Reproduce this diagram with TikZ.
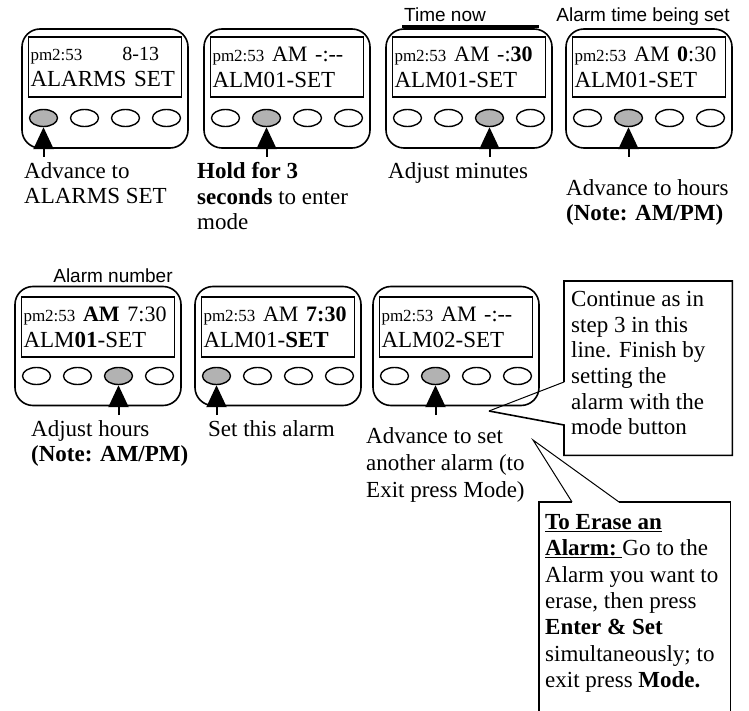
\documentclass[tikz,border=0pt]{standalone}
\usepackage{fontspec}
\setmainfont{Liberation Serif}
\setsansfont{Liberation Sans}
\usetikzlibrary{arrows.meta, shapes.geometric}

\newcommand{\pmclock}{{\fontsize{17}{19}\selectfont pm2:53}}
\newcommand{\topline}[1]{{\fontsize{22}{24}\selectfont #1}}

\begin{document}
\begin{tikzpicture}[x=1pt, y=-1pt,
    device/.style={draw, line width=1.6pt, rounded corners=18pt, minimum width=166pt, minimum height=119pt, inner sep=0pt},
    screen/.style={draw, line width=1.8pt, minimum width=153pt, minimum height=60pt, text width=149pt, inner sep=2pt, align=left, font=\fontsize{23}{26}\selectfont},
    btn/.style={draw, ellipse, line width=1.4pt, minimum width=28pt, minimum height=17pt, inner sep=0pt},
    btn_on/.style={btn, fill=black!30},
    press/.style={line width=2pt, -{Triangle[width=20pt, length=22pt]}},
    hint/.style={anchor=north west, inner sep=0pt, align=left, font=\fontsize{23}{25.5}\selectfont},
    tag/.style={anchor=base, inner sep=0pt, font=\sffamily\fontsize{19}{22}\selectfont},
    note_box/.style={anchor=north west, inner sep=0pt},
    note_text/.style={anchor=north west, inner sep=0pt, align=left, font=\fontsize{23}{26}\selectfont},
    note_line/.style={line width=1.6pt, line join=miter},
    tip_line/.style={line width=1pt}
  ]
  \useasboundingbox (0,0) rectangle (749,711);

  % Step 1: advance to ALARMS SET
  \node[device] (d1) at (105,88.5) {};
  \node[screen] (s1) at (105,67) {\pmclock\hspace{40pt}{\fontsize{20}{22}\selectfont 8-13}\\ALARMS SET};
  \node[btn_on] (b11) at (43.5,118) {}; \node[btn] (b12) at (84.5,118) {};
  \node[btn] (b13) at (125.5,118) {}; \node[btn] (b14) at (166.5,118) {};

  % Step 2: hold to enter mode
  \node[device] (d2) at (287,88.5) {};
  \node[screen] (s2) at (287,67) {\pmclock\ \topline{AM -:-{}-}\\ALM01-SET};
  \node[btn] (b21) at (225.5,118) {}; \node[btn_on] (b22) at (266.5,118) {};
  \node[btn] (b23) at (307.5,118) {}; \node[btn] (b24) at (348.5,118) {};

  % Step 3: minutes
  \node[device] (d3) at (469,88.5) {};
  \node[screen] (s3) at (469,67) {\pmclock\ \topline{AM -:\textbf{30}}\\ALM01-SET};
  \node[btn] (b31) at (407.5,118) {}; \node[btn] (b32) at (448.5,118) {};
  \node[btn_on] (b33) at (489.5,118) {}; \node[btn] (b34) at (530.5,118) {};

  % Step 4: hours
  \node[device] (d4) at (649,88.5) {};
  \node[screen] (s4) at (649,67) {\pmclock\ \topline{AM \textbf{0}:30}\\ALM01-SET};
  \node[btn] (b41) at (587.5,118) {}; \node[btn_on] (b42) at (628.5,118) {};
  \node[btn] (b43) at (669.5,118) {}; \node[btn] (b44) at (710.5,118) {};

  % Step 5: adjust hours
  \node[device] (d5) at (98,346) {};
  \node[screen] (s5) at (98,327) {\pmclock\ \topline{\textbf{AM} 7:30}\\ALM\textbf{01}-SET};
  \node[btn] (b51) at (36.5,376) {}; \node[btn] (b52) at (77.5,376) {};
  \node[btn_on] (b53) at (118.5,376) {}; \node[btn] (b54) at (159.5,376) {};

  % Step 6: set this alarm
  \node[device] (d6) at (278,346) {};
  \node[screen] (s6) at (278,327) {\pmclock\ \topline{AM \textbf{7:30}}\\ALM01-\textbf{SET}};
  \node[btn_on] (b61) at (216.5,376) {}; \node[btn] (b62) at (257.5,376) {};
  \node[btn] (b63) at (298.5,376) {}; \node[btn] (b64) at (339.5,376) {};

  % Step 7: next alarm
  \node[device] (d7) at (456,346) {};
  \node[screen] (s7) at (456,327) {\pmclock\ \topline{AM -:-{}-}\\ALM02-SET};
  \node[btn] (b71) at (394.5,376) {}; \node[btn_on] (b72) at (435.5,376) {};
  \node[btn] (b73) at (476.5,376) {}; \node[btn] (b74) at (517.5,376) {};

  % Press arrows
  \coordinate (a1) at (43.5,157); \coordinate (a2) at (266.5,157);
  \coordinate (a3) at (489.5,157); \coordinate (a4) at (628.5,157);
  \coordinate (a5) at (118.5,415); \coordinate (a6) at (216.5,415);
  \coordinate (a7) at (435.5,415);
  \draw[press] (a1) -- (b11.south); \draw[press] (a2) -- (b22.south);
  \draw[press] (a3) -- (b33.south); \draw[press] (a4) -- (b42.south);
  \draw[press] (a5) -- (b53.south); \draw[press] (a6) -- (b61.south);
  \draw[press] (a7) -- (b72.south);

  % Tags above the displays
  \node[tag] (t1) at (445,22) {Time now};
  \node[tag] (t2) at (643,22) {Alarm time being set};
  \node[tag] (t3) at (113,282) {Alarm number};
  \draw[line width=3pt] ([xshift=17pt, yshift=1.5pt]d3.north west) -- ([xshift=-14pt, yshift=1.5pt]d3.north east);

  % Hints under the buttons
  \node[hint] (h1) at (24,162.3) {Advance to\\ALARMS SET};
  \node[hint] (h2) at (197,162.3) {\textbf{Hold for 3}\\\textbf{seconds} to enter\\mode};
  \node[hint] (h3) at (388,162.3) {Adjust minutes};
  \node[hint] (h4) at (566,179.3) {Advance to hours\\\textbf{(Note: AM/PM)}};
  \node[hint] (h5) at (31,420.3) {Adjust hours\\\textbf{(Note: AM/PM)}};
  \node[hint] (h6) at (208,420.3) {Set this alarm};
  \node[hint, font=\fontsize{23}{27}\selectfont] (h7) at (366,427.3) {Advance to set\\another alarm (to\\Exit press Mode)};

  % Callout: continue
  \node[note_box, minimum width=168pt, minimum height=174pt] (box1) at (564,281) {};
  \coordinate (c1a) at (564,382); \coordinate (c1b) at (564,425); \coordinate (tip1) at (489,411);
  \draw[note_line] (c1a) -- (box1.north west) -- (box1.north east) -- (box1.south east) -- (box1.south west) -- (c1b) -- (tip1);
  \draw[tip_line] (tip1) -- (c1a);
  \node[note_text, font=\fontsize{23}{25.6}\selectfont] (n1) at (571,291.3) {Continue as in\\step 3 in this\\line. Finish by\\setting the\\alarm with the\\mode button};

  % Callout: erase
  \node[note_box, minimum width=191pt, minimum height=210pt] (box2) at (539,502) {};
  \coordinate (c2a) at (572,502); \coordinate (c2b) at (619,502); \coordinate (tip2) at (533,440);
  \draw[note_line] (c2b) -- (box2.north east) -- (box2.south east) -- (box2.south west) -- (box2.north west) -- (c2a);
  \draw[tip_line] (c2a) -- (tip2) -- (c2b);
  \node[note_text, font=\fontsize{23}{26.3}\selectfont] (n2) at (545,514.3) {\underline{\textbf{To Erase an}}\\\underline{\textbf{Alarm:}\ }Go to the\\Alarm you want to\\erase, then press\\\textbf{Enter \& Set}\\simultaneously; to\\exit press \textbf{Mode.}};

\end{tikzpicture}
\end{document}
